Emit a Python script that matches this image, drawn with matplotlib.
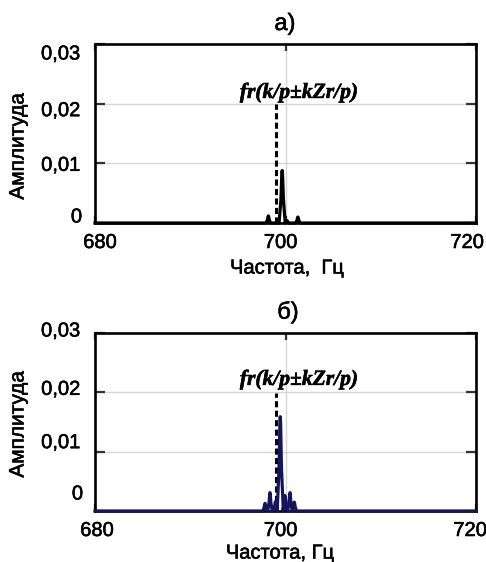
import numpy as np
import matplotlib
matplotlib.use("Agg")
import matplotlib.pyplot as plt
import matplotlib.patheffects as pe
from matplotlib.transforms import blended_transform_factory

plt.rcParams['font.family'] = ['Liberation Sans', 'DejaVu Sans']

# ---- data -------------------------------------------------------------
x_ticks = [680, 700, 720]
x_tick_labels = ["680", "700", "720"]
y_ticks = [0.0, 0.01, 0.02, 0.03]
y_tick_labels = ["0", "0,01", "0,02", "0,03"]

# spectral peaks, panel а)
peaks_a_freq = [698.2, 699.65, 700.15, 701.3]
peaks_a_amp = [0.0012, 0.0088, 0.0004, 0.0010]
# spectral peaks, panel б)
peaks_b_freq = [697.85, 698.37, 698.95, 699.45, 699.95, 700.47, 700.92]
peaks_b_amp = [0.0013, 0.0031, 0.0016, 0.0159, 0.0026, 0.0031, 0.0015]

marker_freq = 699.0        # dashed marker position
marker_top = 0.0199
label_text = "fr(k/p±kZr/p)"
panel_titles = ["а)", "б)"]
x_labels = ["Частота,  Гц", "Частота, Гц"]
y_label = "Амплитуда"

W, H = 486, 562
fig = plt.figure(figsize=(W / 100, H / 100), dpi=100)

# slightly heavier glyphs
heavy = [pe.withStroke(linewidth=0.4, foreground="black")]


def px(x, y):
    return x / W, 1 - y / H


def spectrum(freqs, amps, half_width=0.24):
    xs = [680.0]
    ys = [0.0]
    for f, a in sorted(zip(freqs, amps)):
        hw = half_width * (1.35 if a > 0.008 else 1.0)
        xs += [f - hw, f - hw * 0.4, f - hw * 0.12, f, f + hw * 0.12, f + hw * 0.4, f + hw]
        ys += [0.0, a * 0.45, a * 0.93, a, a * 0.93, a * 0.45, 0.0]
    xs.append(720.0)
    ys.append(0.0)
    return np.array(xs), np.array(ys)


panels = [
    dict(rect=(95, 44, 476, 223), freqs=peaks_a_freq, amps=peaks_a_amp,
         color="black", title_xy=(285, 24), xlabel_xy=(287, 268),
         ylabel_xy=(18, 146), ann=(701.4, 0.0218),
         ytick_dy=[-6, 2, 7, 10], ytick_dx=[-13, -15, -15, -15],
         xtick_dx=[5, -5, -9]),
    dict(rect=(95, 333, 476, 511), freqs=peaks_b_freq, amps=peaks_b_amp,
         color="#15155c", title_xy=(288, 312), xlabel_xy=(280, 553),
         ylabel_xy=(18, 424), ann=(701.4, 0.0221),
         ytick_dy=[-17, -9, -3, -2], ytick_dx=[-12, -15, -15, -15],
         xtick_dx=[2, -5, -6]),
]

for i, p in enumerate(panels):
    x0, y0, x1, y1 = p["rect"]
    ax = fig.add_axes([x0 / W, 1 - y1 / H, (x1 - x0) / W, (y1 - y0) / H])
    ax.set_xlim(680, 720)
    ax.set_ylim(0, 0.03)

    # grid and inner tick marks
    for yv in y_ticks[1:-1]:
        ax.axhline(yv, color="#d6d6d6", lw=1.0, zorder=0)
    ax.axvline(700, color="#d6d6d6", lw=1.0, zorder=0)
    ax.set_xticks(x_ticks)
    ax.set_yticks(y_ticks)
    ax.tick_params(axis="both", direction="in", length=7, width=1.6,
                   color="#333333", labelleft=False, labelbottom=False,
                   right=True, top=True)
    ax.tick_params(axis="x", length=5)
    for s in ax.spines.values():
        s.set_linewidth(1.9)
        s.set_color("black")

    # spectrum
    xs, ys = spectrum(p["freqs"], p["amps"])
    ax.plot(xs, ys, color=p["color"], lw=2.3, solid_joinstyle="round",
            clip_on=False, zorder=3)

    # dashed marker and its label
    ax.plot([marker_freq, marker_freq], [0, marker_top], color="black",
            lw=2.2, dashes=(2.0, 1.1), zorder=2)
    ax.text(p["ann"][0], p["ann"][1], label_text, ha="center", va="center",
            fontsize=15.5, fontweight="bold", fontstyle="italic",
            family=["Liberation Serif", "DejaVu Serif"], path_effects=heavy)

    # tick labels
    ytr = blended_transform_factory(ax.transAxes, ax.transData)
    for yv, lab, dy, dx in zip(y_ticks, y_tick_labels, p["ytick_dy"], p["ytick_dx"]):
        ax.annotate(lab, xy=(0, yv), xycoords=ytr, xytext=(dx, -dy),
                    textcoords="offset pixels", ha="right", va="center",
                    fontsize=14.5, path_effects=heavy)
    xtr = blended_transform_factory(ax.transData, ax.transAxes)
    for xv, lab, dx in zip(x_ticks, x_tick_labels, p["xtick_dx"]):
        ax.annotate(lab, xy=(xv, 0), xycoords=xtr, xytext=(dx, -10),
                    textcoords="offset pixels", ha="center", va="top",
                    fontsize=14.5, path_effects=heavy)

    fig.text(*px(*p["title_xy"]), panel_titles[i], ha="center", va="center",
             fontsize=17, path_effects=heavy)
    fig.text(*px(*p["xlabel_xy"]), x_labels[i], ha="center", va="center",
             fontsize=14.5, path_effects=heavy)
    fig.text(*px(*p["ylabel_xy"]), y_label, ha="center", va="center",
             rotation=90, fontsize=15, path_effects=heavy)

fig.savefig("out.png", dpi=100)
